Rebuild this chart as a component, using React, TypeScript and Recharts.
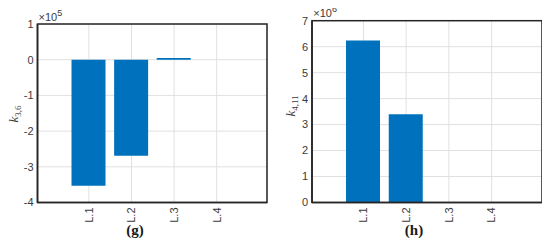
import { BarChart, Bar, XAxis, YAxis, CartesianGrid } from 'recharts';

const CATEGORIAS = ['L.1', 'L.2', 'L.3', 'L.4'];
const K36 = [-353000, -269000, 5000, 0];
const K411 = [6240000, 3400000, 0, 20000];
const TICKS_K36 = [-400000, -300000, -200000, -100000, 0, 100000];
const TICKS_K411 = [0, 1000000, 2000000, 3000000, 4000000, 5000000, 6000000, 7000000];

const AZUL = '#0072BD';
const EIXO = '#262626';
const GRADE = '#e0e0e0';
const TEXTO = '#3a3a3a';
const FONTE = '"Liberation Sans", Arial, sans-serif';
const SERIF = '"Liberation Serif", "Times New Roman", serif';

// layout de cada painel
const LARG = 275;
const ALT = 248;
const EIXO_Y = 37;
const EIXO_X = 45.5;
const MARG_DIR = 8;

const dadosG = CATEGORIAS.map((nome, i) => ({ nome, valor: K36[i] }));
const dadosH = CATEGORIAS.map((nome, i) => ({ nome, valor: K411[i] }));

function TickX({ x, y, payload }: any) {
  return (
    <text
      x={x}
      y={y}
      transform={`rotate(-90, ${x}, ${y})`}
      textAnchor="end"
      dy="0.35em"
      fill={TEXTO}
      fontSize={11}
      fontFamily={FONTE}
    >
      {payload.value}
    </text>
  );
}

type PainelProps = {
  data: { nome: string; valor: number }[];
  ticks: number[];
  escala: number;
  top: number;
  left: number;
};

function Painel({ data, ticks, escala, top, left }: PainelProps) {
  const dominio = [ticks[0], ticks[ticks.length - 1]];
  const linha = { stroke: EIXO, strokeWidth: 1.6 };
  return (
    <div style={{ position: 'relative', width: LARG, height: ALT }}>
      <BarChart
        width={LARG}
        height={ALT}
        data={data}
        margin={{ top, right: MARG_DIR, left, bottom: 0 }}
        barSize={34}
      >
        <CartesianGrid xAxisId="b" yAxisId="l" stroke={GRADE} strokeWidth={1} />
        <XAxis
          xAxisId="b"
          dataKey="nome"
          height={EIXO_X}
          padding={{ left: 30, right: 29 }}
          tick={<TickX />}
          tickSize={3}
          tickMargin={2}
          tickLine={false}
          stroke={EIXO}
          axisLine={linha}
          interval={0}
        />
        <YAxis
          yAxisId="l"
          width={EIXO_Y}
          domain={dominio}
          ticks={ticks}
          interval={0}
          tickFormatter={(v: number) => String(Math.round(v / escala))}
          tick={{ fill: TEXTO, fontSize: 11, fontFamily: FONTE }}
          tickSize={3}
          tickMargin={1}
          tickLine={false}
          stroke={EIXO}
          axisLine={linha}
        />
        <Bar xAxisId="b" yAxisId="l" dataKey="valor" fill={AZUL} isAnimationActive={false} />
      </BarChart>
      <svg
        width={LARG}
        height={ALT}
        style={{ position: 'absolute', left: 0, top: 0, pointerEvents: 'none' }}
      >
        <rect
          x={left + EIXO_Y}
          y={top}
          width={LARG - MARG_DIR - left - EIXO_Y}
          height={ALT - EIXO_X - top}
          fill="none"
          stroke={EIXO}
          strokeWidth={1.5}
        />
      </svg>
    </div>
  );
}

export default function App() {
  return (
    <div style={{ position: 'relative', width: 550, height: 248, background: '#fff', margin: -8 }}>
      <div style={{ position: 'absolute', left: 0, top: 0 }}>
        <Painel data={dadosG} ticks={TICKS_K36} escala={1e5} top={24} left={0.5} />
      </div>
      <div style={{ position: 'absolute', left: 275, top: 0 }}>
        <Painel data={dadosH} ticks={TICKS_K411} escala={1e6} top={20.7} left={0} />
      </div>
      <svg
        width={550}
        height={248}
        style={{ position: 'absolute', left: 0, top: 0, pointerEvents: 'none' }}
      >
        <text x={38.5} y={20.7} fill={TEXTO} fontSize={11} fontFamily={FONTE}>
          ×10
          <tspan dy={-5} fontSize={9}>5</tspan>
        </text>
        <text x={313.3} y={17.3} fill={TEXTO} fontSize={11} fontFamily={FONTE}>
          ×10
          <tspan dy={-5} fontSize={9}>6</tspan>
        </text>
        <text
          x={18}
          y={114}
          transform="rotate(-90, 18, 114)"
          textAnchor="middle"
          fill={TEXTO}
          fontSize={13}
          fontFamily={SERIF}
        >
          <tspan fontStyle="italic">k</tspan>
          <tspan dy={3} fontSize={9}>3,6</tspan>
        </text>
        <text
          x={295}
          y={106}
          transform="rotate(-90, 295, 106)"
          textAnchor="middle"
          fill={TEXTO}
          fontSize={13}
          fontFamily={SERIF}
        >
          <tspan fontStyle="italic">k</tspan>
          <tspan dy={3} fontSize={9}>4,11</tspan>
        </text>
        <text x={135} y={235} textAnchor="middle" fill="#1a1a1a" fontSize={15} fontWeight="bold" fontFamily={SERIF}>
          (g)
        </text>
        <text x={414} y={235} textAnchor="middle" fill="#1a1a1a" fontSize={15} fontWeight="bold" fontFamily={SERIF}>
          (h)
        </text>
      </svg>
    </div>
  );
}
